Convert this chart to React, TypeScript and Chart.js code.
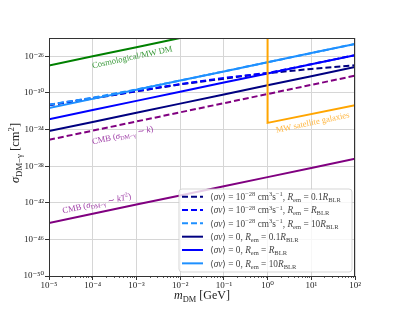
import { useEffect, useRef } from 'react';
import { Chart, registerables } from 'chart.js';

Chart.register(...registerables);

const FONT = '"Liberation Serif", "DejaVu Serif", serif';

// Dark-matter mass grid (GeV)
const massGrid = [1e-5, 1e-4, 1e-3, 1e-2, 1e-1, 1, 10, 100];

// sigma_DM-gamma [cm^2]
const sigmaAnnNavy = [4.57e-32, 2.51e-31, 1.48e-30, 8.51e-30, 3.63e-29, 1.45e-28, 4.17e-28, 1.05e-27];
const sigmaAnnBlue = [5.01e-32, 2.75e-31, 1.58e-30, 9.33e-30, 4.37e-29, 1.51e-28, 1.37e-27, 1.35e-26];
const sigmaAnnLight = [5.25e-32, 3.02e-31, 2.4e-30, 2.24e-29, 2.24e-28, 2.24e-27, 2.24e-26, 2.24e-25];
const sigmaNoAnnNavy = [6.76e-35, 6.76e-34, 6.76e-33, 6.76e-32, 6.76e-31, 6.76e-30, 6.76e-29, 6.76e-28];
const sigmaNoAnnBlue = [1.35e-33, 1.35e-32, 1.35e-31, 1.35e-30, 1.35e-29, 1.35e-28, 1.35e-27, 1.35e-26];
const sigmaNoAnnLight = [2.24e-32, 2.24e-31, 2.24e-30, 2.24e-29, 2.24e-28, 2.24e-27, 2.24e-26, 2.24e-25];
const sigmaCmbK = [7.59e-36, 7.59e-35, 7.59e-34, 7.59e-33, 7.59e-32, 7.59e-31, 7.59e-30, 7.59e-29];
const sigmaCmbKT2 = [6.31e-45, 6.31e-44, 6.31e-43, 6.31e-42, 6.31e-41, 6.31e-40, 6.31e-39, 6.31e-38];
const sigmaCosmo = [1e-27, 1e-26, 1e-25, 1e-24, 1e-23, 1e-22, 1e-21, 1e-20];
const satMass = [1, 1, 100];
const satSigma = [1e-20, 5.37e-34, 4.57e-32];

const xTickValues = [1e-5, 1e-4, 1e-3, 1e-2, 1e-1, 1, 10, 100];
const yTickValues = [1e-50, 1e-46, 1e-42, 1e-38, 1e-34, 1e-30, 1e-26];

type Seg = { t: string; it?: boolean; sub?: boolean; sup?: boolean };

const annotations: { segs: Seg[]; x: number; y: number; color: string }[] = [
  { segs: [{ t: 'Cosmological/MW DM' }], x: 1e-4, y: 5.0e-28, color: '#3a9a3a' },
  {
    segs: [{ t: 'CMB (' }, { t: 'σ', it: true }, { t: 'DM−γ', sub: true }, { t: ' ∼ ' }, { t: 'k', it: true }, { t: ')' }],
    x: 1e-4, y: 2.5e-36, color: '#a040a8',
  },
  {
    segs: [{ t: 'CMB (' }, { t: 'σ', it: true }, { t: 'DM−γ', sub: true }, { t: ' ∼ ' }, { t: 'kT', it: true }, { t: '2', sup: true }, { t: ')' }],
    x: 2.1e-5, y: 7e-44, color: '#a040a8',
  },
  { segs: [{ t: 'MW satellite galaxies' }], x: 1.6, y: 4.4e-35, color: '#ffb640' },
];

const ann = (r: string): Seg[] => [
  { t: '⟨' }, { t: 'σv', it: true }, { t: '⟩ = 10' }, { t: '−28', sup: true }, { t: ' cm' }, { t: '3', sup: true },
  { t: 's' }, { t: '−1', sup: true }, { t: ', ' }, { t: 'R', it: true }, { t: 'em', sub: true }, { t: ' = ' + r },
  { t: 'R', it: true }, { t: 'BLR', sub: true },
];
const noAnn = (r: string): Seg[] => [
  { t: '⟨' }, { t: 'σv', it: true }, { t: '⟩ = 0, ' }, { t: 'R', it: true }, { t: 'em', sub: true }, { t: ' = ' + r },
  { t: 'R', it: true }, { t: 'BLR', sub: true },
];

const legendItems: { segs: Seg[]; color: string; dash: number[] }[] = [
  { segs: ann('0.1'), color: '#000080', dash: [6, 3] },
  { segs: ann(''), color: '#0000ff', dash: [6, 3] },
  { segs: ann('10'), color: '#1e90ff', dash: [6, 3] },
  { segs: noAnn('0.1'), color: '#000080', dash: [] },
  { segs: noAnn(''), color: '#0000ff', dash: [] },
  { segs: noAnn('10'), color: '#1e90ff', dash: [] },
];

const SUP: Record<string, string> = { '0': '⁰', '1': '¹', '2': '²', '3': '³', '4': '⁴', '5': '⁵', '6': '⁶', '7': '⁷', '8': '⁸', '9': '⁹', '-': '⁻' };
const powLabel = (v: number) => '10' + String(Math.round(Math.log10(v))).split('').map((c) => SUP[c] ?? c).join('');

function segFont(s: Seg, size: number) {
  const sz = s.sub || s.sup ? size * 0.7 : size;
  return `${s.it ? 'italic ' : ''}${sz}px ${FONT}`;
}

function drawRich(ctx: CanvasRenderingContext2D, segs: Seg[], x: number, y: number, size: number, color: string, align: 'left' | 'center', rot = 0) {
  ctx.save();
  ctx.translate(x, y);
  ctx.rotate(rot);
  ctx.fillStyle = color;
  ctx.textBaseline = 'alphabetic';
  ctx.textAlign = 'left';
  const widths = segs.map((s) => {
    ctx.font = segFont(s, size);
    return ctx.measureText(s.t).width;
  });
  const total = widths.reduce((a, b) => a + b, 0);
  let cx = align === 'center' ? -total / 2 : 0;
  segs.forEach((s, i) => {
    ctx.font = segFont(s, size);
    const dy = s.sub ? size * 0.22 : s.sup ? -size * 0.4 : 0;
    ctx.fillText(s.t, cx, dy);
    cx += widths[i];
  });
  ctx.restore();
}

const pts = (xs: number[], ys: number[]) => xs.map((x, i) => ({ x, y: ys[i] }));

const decorPlugin = {
  id: 'decor',
  afterDatasetsDraw(chart: any) {
    const { ctx, chartArea: a, scales } = chart;
    const xs = scales.x;
    const ys = scales.y;
    ctx.save();
    // frame
    ctx.strokeStyle = '#333';
    ctx.lineWidth = 1;
    ctx.strokeRect(Math.round(a.left) + 0.5, Math.round(a.top) + 0.5, Math.round(a.right - a.left) - 1, Math.round(a.bottom - a.top));
    // minor x ticks
    ctx.beginPath();
    for (let d = -5; d < 2; d++) {
      for (let k = 2; k <= 9; k++) {
        const px = Math.round(xs.getPixelForValue(k * Math.pow(10, d))) + 0.5;
        ctx.moveTo(px, a.bottom);
        ctx.lineTo(px, a.bottom + 2);
      }
    }
    ctx.lineWidth = 0.8;
    ctx.stroke();
    ctx.restore();

    // annotations
    const rot = (-12 * Math.PI) / 180;
    annotations.forEach((an) => {
      drawRich(ctx, an.segs, xs.getPixelForValue(an.x), ys.getPixelForValue(an.y), 8.6, an.color, 'left', rot);
    });

    // legend
    ctx.save();
    const lx = 179, ly = 189, lw = 173, lh = 83, r = 3;
    ctx.beginPath();
    ctx.moveTo(lx + r, ly);
    ctx.lineTo(lx + lw - r, ly);
    ctx.quadraticCurveTo(lx + lw, ly, lx + lw, ly + r);
    ctx.lineTo(lx + lw, ly + lh - r);
    ctx.quadraticCurveTo(lx + lw, ly + lh, lx + lw - r, ly + lh);
    ctx.lineTo(lx + r, ly + lh);
    ctx.quadraticCurveTo(lx, ly + lh, lx, ly + lh - r);
    ctx.lineTo(lx, ly + r);
    ctx.quadraticCurveTo(lx, ly, lx + r, ly);
    ctx.closePath();
    ctx.fillStyle = 'rgba(255,255,255,0.8)';
    ctx.fill();
    ctx.strokeStyle = 'rgba(204,204,204,0.8)';
    ctx.lineWidth = 1;
    ctx.stroke();
    legendItems.forEach((it, i) => {
      const yy = 196.7 + i * 13.33;
      ctx.beginPath();
      ctx.setLineDash(it.dash);
      ctx.strokeStyle = it.color;
      ctx.lineWidth = 2;
      ctx.moveTo(182, yy);
      ctx.lineTo(203, yy);
      ctx.stroke();
      ctx.setLineDash([]);
      drawRich(ctx, it.segs, 210, yy + 3.2, 9.3, '#444', 'left');
    });
    ctx.restore();

    // axis titles
    drawRich(ctx, [{ t: 'm', it: true }, { t: 'DM', sub: true }, { t: ' [GeV]' }], 202, 299, 12, '#222', 'center');
    ctx.save();
    ctx.translate(19, 153);
    ctx.rotate(-Math.PI / 2);
    drawRich(ctx, [{ t: 'σ', it: true }, { t: 'DM−γ', sub: true }, { t: ' [cm' }, { t: '2', sup: true }, { t: ']' }], 0, 0, 12.5, '#222', 'center');
    ctx.restore();
  },
};

export default function App() {
  const ref = useRef<HTMLCanvasElement>(null);
  useEffect(() => {
    document.body.style.margin = '0';
    const line = (data: any[], color: string, dashed: boolean) => ({
      data,
      borderColor: color,
      backgroundColor: color,
      borderWidth: 2,
      borderDash: dashed ? [6, 3] : [],
      pointRadius: 0,
      fill: false,
      tension: 0,
    });
    const chart = new Chart(ref.current as HTMLCanvasElement, {
      type: 'line',
      data: {
        datasets: [
          line(pts(satMass, satSigma), '#ffa500', false),
          line(pts(massGrid, sigmaNoAnnLight), '#1e90ff', false),
          line(pts(massGrid, sigmaNoAnnBlue), '#0000ff', false),
          line(pts(massGrid, sigmaNoAnnNavy), '#000080', false),
          line(pts(massGrid, sigmaAnnLight), '#1e90ff', true),
          line(pts(massGrid, sigmaAnnBlue), '#0000ff', true),
          line(pts(massGrid, sigmaAnnNavy), '#000080', true),
          line(pts(massGrid, sigmaCosmo), '#008000', false),
          line(pts(massGrid, sigmaCmbK), '#800080', true),
          line(pts(massGrid, sigmaCmbKT2), '#800080', false),
        ] as any,
      },
      options: {
        responsive: false,
        animation: false,
        parsing: false as any,
        layout: { padding: { left: 0, right: 40, top: 38, bottom: 0 } },
        plugins: { legend: { display: false }, tooltip: { enabled: false } },
        scales: {
          x: {
            type: 'logarithmic',
            min: 1e-5,
            max: 100,
            afterBuildTicks: (s: any) => {
              s.ticks = xTickValues.map((v) => ({ value: v }));
            },
            afterFit: (s: any) => {
              s.height = 40;
            },
            ticks: {
              autoSkip: false,
              maxRotation: 0,
              padding: 0,
              color: '#222',
              font: { family: FONT, size: 9 },
              callback: (v: any) => powLabel(Number(v)),
            },
            grid: { color: '#d6d6d6', lineWidth: 1, tickColor: '#333', tickLength: 4 },
            border: { color: '#333', width: 1 },
          },
          y: {
            type: 'logarithmic',
            min: 1e-50,
            max: 1e-24,
            afterBuildTicks: (s: any) => {
              s.ticks = yTickValues.map((v) => ({ value: v }));
            },
            afterFit: (s: any) => {
              s.width = 49;
            },
            ticks: {
              autoSkip: false,
              padding: 1,
              color: '#222',
              font: { family: FONT, size: 9 },
              callback: (v: any) => powLabel(Number(v)),
            },
            grid: { color: '#d6d6d6', lineWidth: 1, tickColor: '#333', tickLength: 4 },
            border: { color: '#333', width: 1 },
          },
        },
      },
      plugins: [decorPlugin],
    });
    return () => chart.destroy();
  }, []);
  return (
    <div style={{ width: 395, height: 316 }}>
      <canvas ref={ref} width={395} height={316} style={{ display: 'block' }} />
    </div>
  );
}
